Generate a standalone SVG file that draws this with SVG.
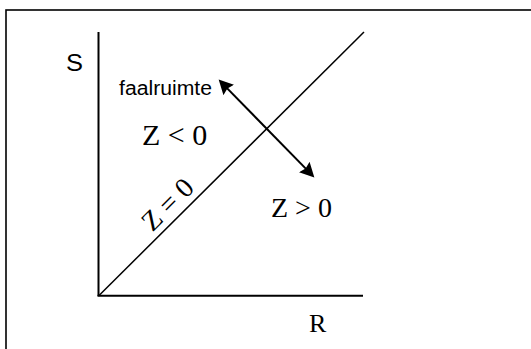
<svg xmlns="http://www.w3.org/2000/svg" width="531" height="349" viewBox="0 0 531 349">
<style>
.ax{stroke:#000;stroke-width:2;fill:none}
.diag{stroke:#000;stroke-width:1.5;fill:none}
.arr{stroke:#000;stroke-width:2;fill:none}
.sans{font-family:"Liberation Sans",Arial,sans-serif;fill:#000}
.serif{font-family:"Liberation Serif","Times New Roman",serif;fill:#000}
</style>
<defs>
<marker id="head" markerUnits="userSpaceOnUse" markerWidth="16" markerHeight="16" refX="11" refY="7.5" orient="auto-start-reverse">
<path d="M0,0 L14.5,7.5 L0,15 L2,7.5 Z" fill="#000"/>
</marker>
</defs>
<rect x="6" y="10" width="600" height="400" fill="#fff" stroke="#000" stroke-width="1.6"/>
<g id="axes">
<line class="ax" x1="98.5" y1="32" x2="98.5" y2="296"/>
<line class="ax" x1="97.5" y1="295.7" x2="363" y2="295.7"/>
</g>
<g id="connectors">
<line class="diag" x1="98.5" y1="296" x2="364" y2="32"/>
<line class="arr" x1="221.1" y1="82.1" x2="311.9" y2="174.9" marker-start="url(#head)" marker-end="url(#head)"/>
</g>
<g id="labels">
<text class="sans" x="66" y="71" font-size="24" textLength="17" lengthAdjust="spacingAndGlyphs">S</text>
<text class="sans" x="119" y="95" font-size="20" textLength="93" lengthAdjust="spacingAndGlyphs">faalruimte</text>
<text class="serif" x="142" y="145" font-size="30">Z &lt; 0</text>
<text class="serif" x="271" y="216.7" font-size="28">Z &gt; 0</text>
<text class="serif" x="309" y="332" font-size="26">R</text>
<text class="serif" font-size="28" text-anchor="middle" transform="translate(174,211) rotate(-45)">Z = 0</text>
</g>
</svg>
